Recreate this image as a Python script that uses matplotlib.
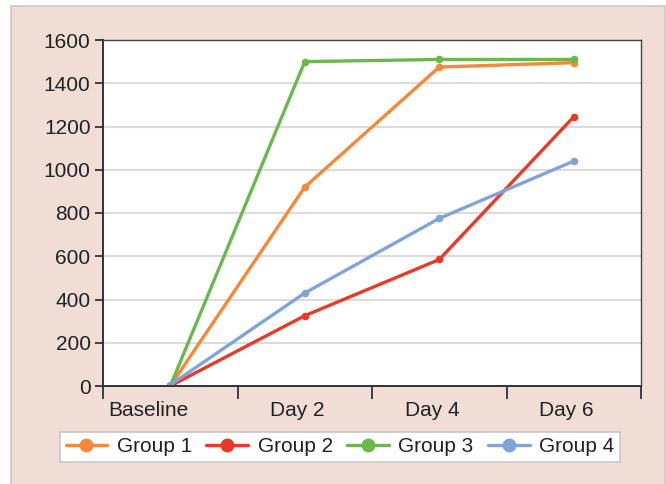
import matplotlib
matplotlib.use("Agg")
import matplotlib.pyplot as plt
import matplotlib.transforms as mtransforms
from matplotlib.patches import Rectangle

plt.rcParams["font.family"] = ["Liberation Sans", "DejaVu Sans"]

categories = ["Baseline", "Day 2", "Day 4", "Day 6"]
group1 = [0, 920, 1475, 1495]
group2 = [0, 325, 585, 1245]
group3 = [0, 1500, 1510, 1510]
group4 = [5, 430, 775, 1040]

series = [
    ("Group 1", group1, "#f5883a"),
    ("Group 2", group2, "#e93a27"),
    ("Group 3", group3, "#6bb84f"),
    ("Group 4", group4, "#80a4da"),
]

fig = plt.figure(figsize=(6.66, 4.84), dpi=100)
fig.patch.set_facecolor("white")
fig.patches.append(Rectangle((11 / 666, -0.01), 654 / 666, 1 - 6 / 484 + 0.01,
                             transform=fig.transFigure, facecolor="#f0ddd5",
                             edgecolor="#c8c8c8", linewidth=1.2, zorder=-10))

ax = fig.add_axes([103 / 666, 1 - 386 / 484, 538 / 666, 346 / 484])
ax.set_facecolor("white")

x = list(range(len(categories)))
for name, vals, color in series:
    ax.plot(x, vals, color=color, linewidth=2.4, marker="o", markersize=4.5,
            label=name, solid_capstyle="round")

ax.set_xlim(-0.5, 3.5)
ax.set_ylim(0, 1600)
ax.set_yticks(range(0, 1601, 200))
ax.yaxis.grid(True, color="#dcdcdc", linewidth=1.5)
ax.set_axisbelow(True)

ax.set_xticks([-0.5, 0.5, 1.5, 2.5, 3.5])
ax.set_xticklabels([])
ax.set_xticks(x, minor=True)
ax.set_xticklabels(categories, minor=True)
ax.tick_params(axis="x", which="major", length=9, width=1.3, color="#333333")
ax.tick_params(axis="x", which="minor", length=0, pad=11, labelsize=15, labelcolor="#222222")
ax.tick_params(axis="y", length=6, width=1.3, color="#333333", labelsize=15,
               labelcolor="#222222", pad=3)

# category labels sit a little left of the category centre in the original
for i, lab in enumerate(ax.get_xticklabels(minor=True)):
    shift = -22 if i == 0 else -7
    lab.set_transform(lab.get_transform() +
                      mtransforms.ScaledTranslation(shift / 100, 0, fig.dpi_scale_trans))

for side in ["left", "bottom"]:
    ax.spines[side].set_color("#333333")
    ax.spines[side].set_linewidth(1.4)
for side in ["top", "right"]:
    ax.spines[side].set_color("#444444")
    ax.spines[side].set_linewidth(1.0)

leg = fig.legend(loc="center", bbox_to_anchor=(340 / 666, 1 - 447 / 484), ncol=4,
                 fontsize=15, frameon=True, fancybox=False, framealpha=1.0,
                 handlelength=2.0, columnspacing=0.7, handletextpad=0.45,
                 borderpad=0.25, markerscale=2.0)
leg.get_frame().set_edgecolor("#c8c8c8")
leg.get_frame().set_linewidth(1.2)
for t in leg.get_texts():
    t.set_color("#222222")

fig.savefig("out.png", dpi=100)
